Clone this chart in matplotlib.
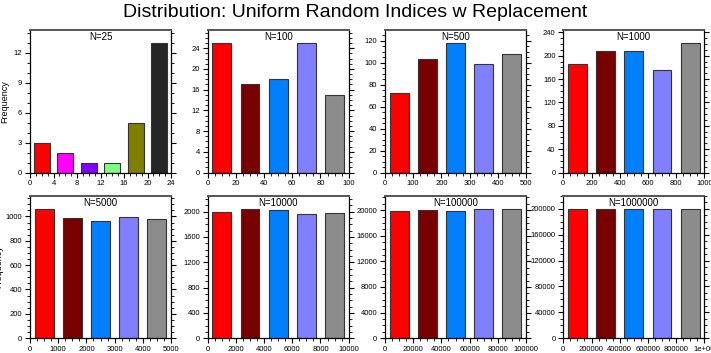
import matplotlib
matplotlib.use("Agg")
import matplotlib.pyplot as plt
from matplotlib.ticker import AutoMinorLocator, FixedLocator
import numpy as np

# ---- data ----
titles = ["N=25", "N=100", "N=500", "N=1000", "N=5000", "N=10000", "N=100000", "N=1000000"]
xmax = [24, 100, 500, 1000, 5000, 10000, 100000, 1000000]
counts = [
    [3, 2, 1, 1, 5, 13],
    [25, 17, 18, 25, 15],
    [72, 103, 118, 99, 108],
    [186, 208, 208, 176, 222],
    [1064, 990, 966, 999, 981],
    [1996, 2046, 2020, 1962, 1976],
    [19800, 19950, 19900, 20120, 20230],
    [200000, 199900, 200300, 199900, 199900],
]
xticks = [
    [0, 4, 8, 12, 16, 20, 24],
    [0, 20, 40, 60, 80, 100],
    [0, 100, 200, 300, 400, 500],
    [0, 200, 400, 600, 800, 1000],
    [0, 1000, 2000, 3000, 4000, 5000],
    [0, 2000, 4000, 6000, 8000, 10000],
    [0, 20000, 40000, 60000, 80000, 100000],
    [0, 200000, 400000, 600000, 800000, 1000000],
]
xticklabels = [
    ["0", "4", "8", "12", "16", "20", "24"],
    ["0", "20", "40", "60", "80", "100"],
    ["0", "100", "200", "300", "400", "500"],
    ["0", "200", "400", "600", "800", "1000"],
    ["0", "1000", "2000", "3000", "4000", "5000"],
    ["0", "2000", "4000", "6000", "8000", "10000"],
    ["0", "20000", "40000", "60000", "80000", "100000"],
    ["0", "200000", "400000", "600000", "800000", "1e+06"],
]
yticks = [
    [0, 3, 6, 9, 12],
    [0, 4, 8, 12, 16, 20, 24],
    [0, 20, 40, 60, 80, 100, 120],
    [0, 40, 80, 120, 160, 200, 240],
    [0, 200, 400, 600, 800, 1000],
    [0, 400, 800, 1200, 1600, 2000],
    [0, 4000, 8000, 12000, 16000, 20000],
    [0, 40000, 80000, 120000, 160000, 200000],
]
colors6 = ["#FF0000", "#FF00FF", "#8000FF", "#80FF80", "#808000", "#262626"]
colors5 = ["#FF0000", "#780000", "#0080FF", "#8080FF", "#8C8C8C"]

plt.rcParams['font.family'] = ['Liberation Sans', 'DejaVu Sans']

fig = plt.figure(figsize=(7.11, 3.53), dpi=100)
lefts = [30, 207.7, 385, 563.3]
tops = [30, 195.7]
W, H = 141, 142.5
FW, FH = 711, 353

for i in range(8):
    r, c = divmod(i, 4)
    l = lefts[c] / FW
    b = 1 - (tops[r] + H) / FH
    ax = fig.add_axes([l, b, W / FW, H / FH])
    vals = counts[i]
    n = len(vals)
    bw = xmax[i] / n
    centers = [bw * (k + 0.5) for k in range(n)]
    cols = colors6 if n == 6 else colors5
    ax.bar(centers, vals, width=bw * 0.67, color=cols, edgecolor="#333333", linewidth=0.8)
    ax.set_xlim(0, xmax[i])
    ax.set_ylim(0, max(vals) * 1.1)
    ax.xaxis.set_major_locator(FixedLocator(xticks[i]))
    ax.set_xticklabels(xticklabels[i])
    ax.yaxis.set_major_locator(FixedLocator(yticks[i]))
    ax.set_yticklabels([str(v) for v in yticks[i]])
    ax.xaxis.set_minor_locator(AutoMinorLocator(4))
    ax.yaxis.set_minor_locator(AutoMinorLocator(3 if i == 0 else 4))
    ax.tick_params(axis='both', which='major', direction='out', length=3.5, width=0.8,
                   labelsize=5.5, pad=2)
    ax.tick_params(axis='both', which='minor', direction='out', length=2, width=0.6)
    ax.tick_params(axis='y', which='both', right=True, left=True)
    ax.tick_params(axis='x', which='both', top=False, bottom=True)
    for s in ax.spines.values():
        s.set_linewidth(0.9)
    ax.spines['top'].set_color('#555555')
    ax.spines['top'].set_linewidth(1.4)
    ax.text(0.5, 0.985, titles[i], transform=ax.transAxes, ha='center', va='top', fontsize=7)
    if c == 0:
        ax.set_ylabel("Frequency", fontsize=6.5)
        ax.yaxis.set_label_coords(-0.15 if r == 0 else -0.19, 0.5)

fig.text(0.5, 0.966, "Distribution: Uniform Random Indices w Replacement",
         ha='center', va='center', fontsize=14)

fig.savefig("out.png", dpi=100)
